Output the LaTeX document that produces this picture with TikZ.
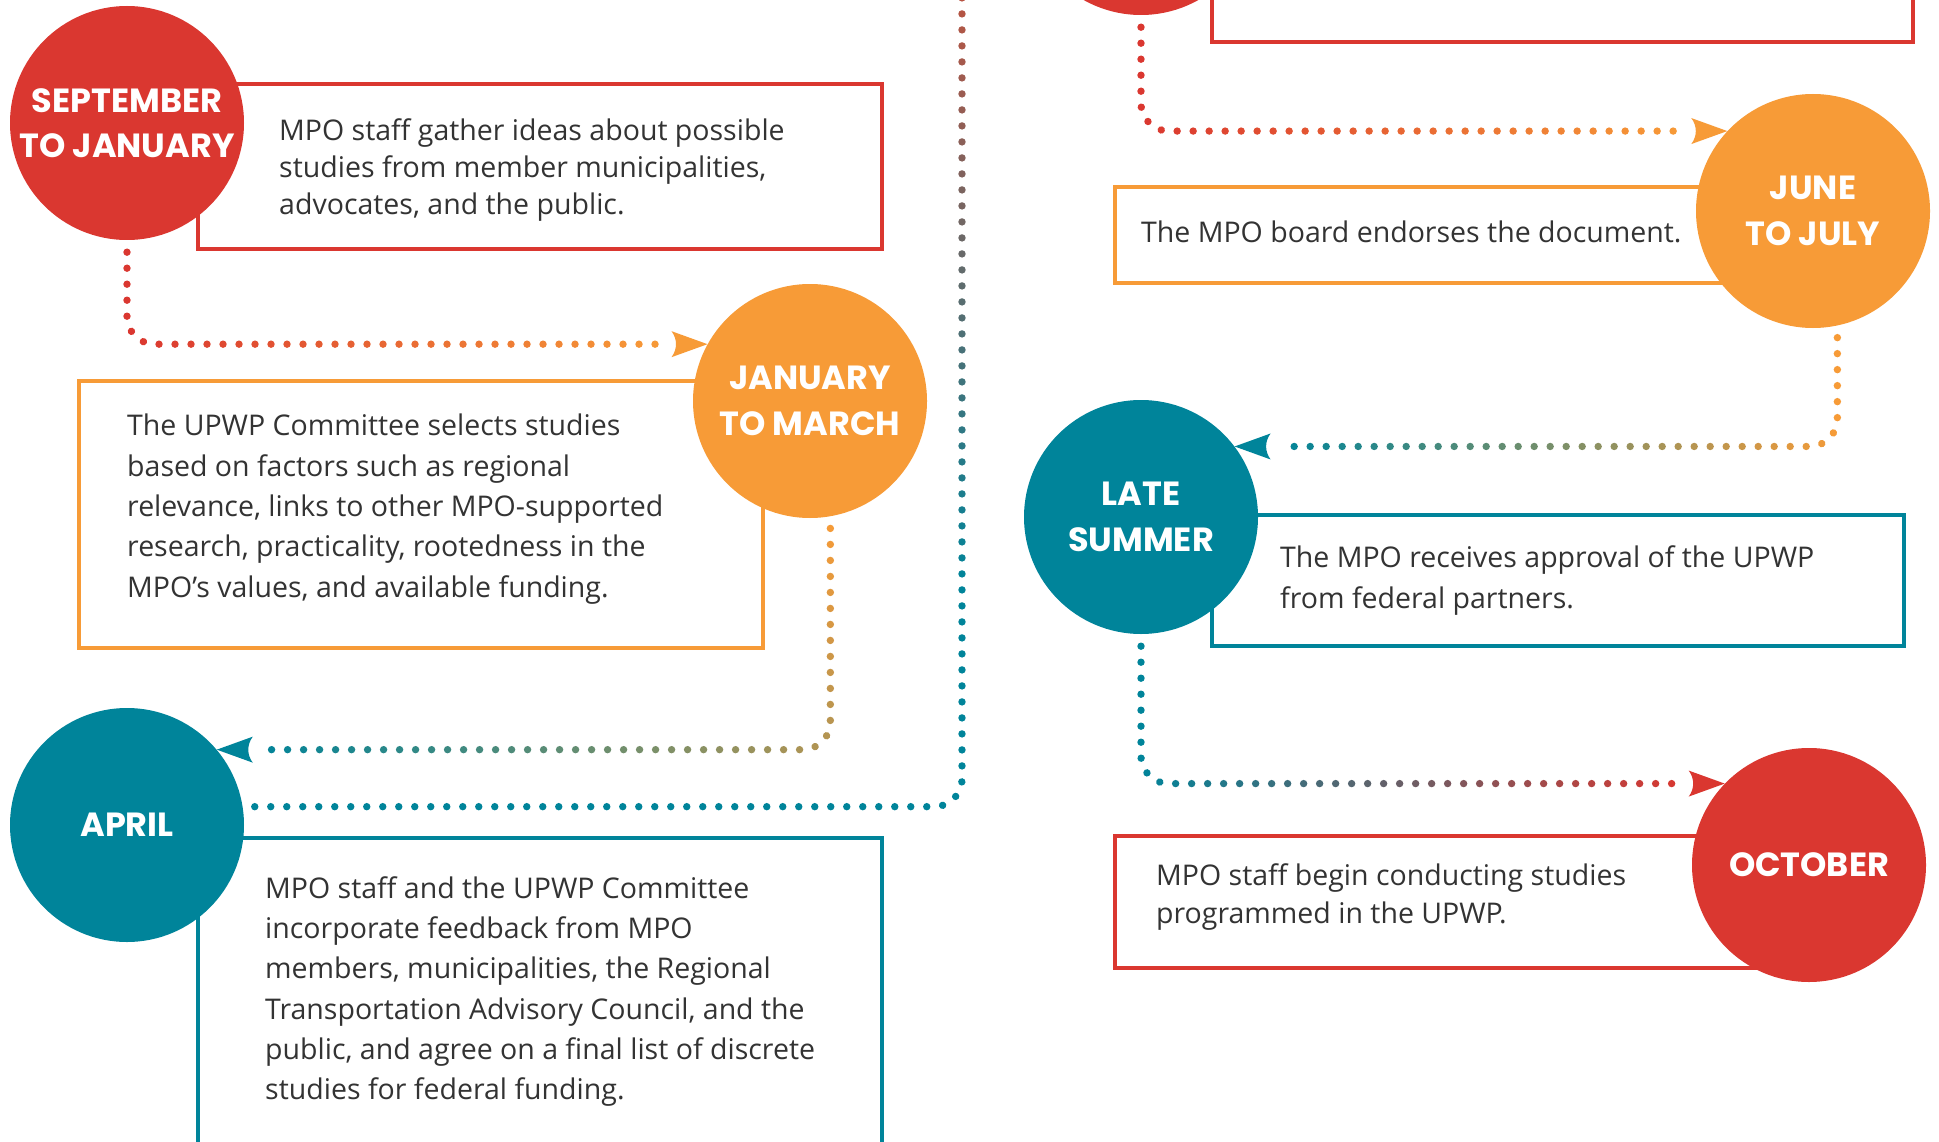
\documentclass[tikz,border=0pt]{standalone}
\usepackage{fontspec}
\setmainfont{Open Sans}
\newfontfamily\labfont{Poppins}
\usetikzlibrary{decorations.markings}
\definecolor{redc}{HTML}{DA3730}
\definecolor{orac}{HTML}{F79B37}
\definecolor{tealc}{HTML}{00849A}
\definecolor{txtc}{HTML}{333333}
\definecolor{brownc}{HTML}{C4513D}
\tikzset{
  stage/.style={circle, minimum size=234pt, inner sep=0pt, fill=#1, text=white,
    align=center, font=\labfont\bfseries\fontsize{33.5}{45.5}\selectfont},
  frame/.style={draw=#1, line width=4pt, rectangle, inner sep=0pt},
  body/.style={text=txtc, align=left, anchor=base west, inner sep=0pt},
  flow/.style n args={3}{postaction={decorate,decoration={markings,
    mark=between positions 12pt and 1 step 16pt with {%
      \pgfmathsetmacro\fdist{\pgfkeysvalueof{/pgf/decoration/mark info/distance from start}}%
      \pgfmathsetmacro\flen{\pgfdecoratedpathlength}%
      \pgfmathtruncatemacro\fok{\fdist<\flen-46 ? 1 : 0}%
      \ifnum\fok=1
        \pgfmathtruncatemacro\fpct{max(0,min(100,(\fdist-#3)/(\flen-46-#3)*100))}%
        \fill[#2!\fpct!#1] (0pt,0pt) circle (3.7pt);%
      \fi},
    mark=at position 1 with {\fill[#2, sharp corners] (0pt,0pt) -- (-36pt,13pt) .. controls (-30pt,5pt) and (-30pt,-5pt) .. (-36pt,-13pt) -- cycle;}}}},
}
\begin{document}
\begin{tikzpicture}[x=1pt,y=-1pt]
\useasboundingbox (0,0) rectangle (1939,1142);
\clip (0,0) rectangle (1939,1142);
\fill[white] (0,0) rectangle (1939,1142);
% boxes
\node[frame=redc, minimum width=684pt, minimum height=165pt] (b1) at (540,166.5) {};
\node[frame=orac, minimum width=684pt, minimum height=267pt] (b2) at (421,514.5) {};
\node[frame=tealc, minimum width=684pt, minimum height=362pt] (b3) at (540,1019) {};
\node[frame=redc, minimum width=701pt, minimum height=142pt] (bmay) at (1562.5,-29) {};
\node[frame=orac, minimum width=665pt, minimum height=96pt] (bjune) at (1447.5,235) {};
\node[frame=tealc, minimum width=692pt, minimum height=131pt] (blate) at (1558,580.5) {};
\node[frame=redc, minimum width=665pt, minimum height=132pt] (boct) at (1447.5,902) {};
% circles
\node[stage=redc] (sep) at (127,123) {SEPTEMBER\\TO JANUARY};
\node[stage=orac] (jan) at (810,401) {JANUARY\\TO MARCH};
\node[stage=tealc] (apr) at (127,825) {APRIL};
\node[stage=redc] (may) at (1141,-102) {};
\node[stage=orac] (june) at (1813,211) {JUNE\\TO JULY};
\node[stage=tealc] (late) at (1141,517) {LATE\\SUMMER};
\node[stage=redc] (oct) at (1809,865) {OCTOBER};
\coordinate (mtop) at (962,-80);
% connectors
\path[rounded corners=28pt, flow={redc}{orac}{90}] (sep.south) |- (jan.151);
\path[rounded corners=28pt, flow={orac}{tealc}{0}] (jan.-80) |- (apr.40);
\path[rounded corners=28pt, flow={tealc}{brownc}{930}] (apr.9) -| (mtop);
\path[rounded corners=28pt, flow={redc}{orac}{100}] (may.south) |- (june.137);
\path[rounded corners=28pt, flow={orac}{tealc}{100}] (june.-78) |- (late.37);
\path[rounded corners=28pt, flow={tealc}{redc}{130}] (late.south) |- (oct.136);
% texts (anchor is the baseline of the last line)
\node[body, font=\fontsize{28.5}{37}\selectfont] (t1) at (279,214.5)
  {MPO staff gather ideas about possible\\studies from member municipalities,\\advocates, and the public.};
\node[body, font=\fontsize{28.5}{40.3}\selectfont] (t2) at (127,597)
  {The UPWP Committee selects studies\\based on factors such as regional\\relevance, links to other MPO-supported\\research, practicality, rootedness in the\\MPO’s values, and available funding.};
\node[body, font=\fontsize{28.5}{40.2}\selectfont] (t3) at (265,1099.5)
  {MPO staff and the UPWP Committee\\incorporate feedback from MPO\\members, municipalities, the Regional\\Transportation Advisory Council, and the\\public, and agree on a final list of discrete\\studies for federal funding.};
\node[body, font=\fontsize{28.5}{40}\selectfont] (tjune) at (1141,243)
  {The MPO board endorses the document.};
\node[body, font=\fontsize{28.5}{41}\selectfont] (tlate) at (1280,608.5)
  {The MPO receives approval of the UPWP\\from federal partners.};
\node[body, font=\fontsize{28.5}{38}\selectfont] (toct) at (1156,923.5)
  {MPO staff begin conducting studies\\programmed in the UPWP.};
\end{tikzpicture}
\end{document}
